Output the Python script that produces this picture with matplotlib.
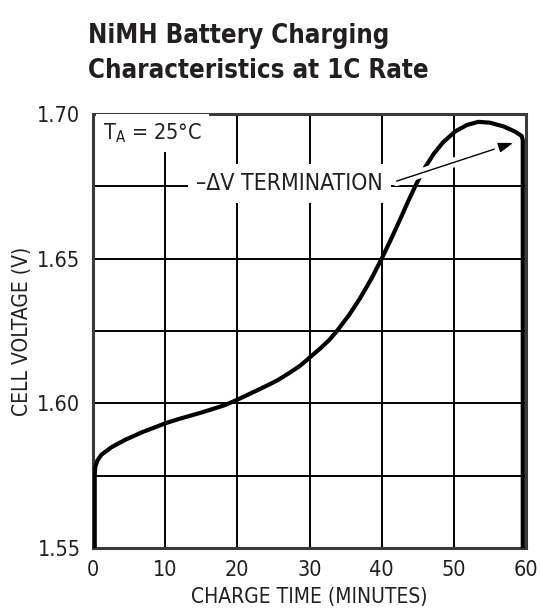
import matplotlib
matplotlib.use('Agg')
import matplotlib.pyplot as plt
import matplotlib.patheffects as pe
from matplotlib.ticker import MultipleLocator

# Curve
time_min = [0.24, 0.24, 0.32, 0.6, 1.15, 2.54, 4.39, 6.69, 10.02, 11.78, 15.0,
            18.3, 19.95, 22.5, 24.0, 25.6, 27.2, 28.7, 30.2, 31.5, 32.7, 33.8,
            35.5, 37.0, 38.6, 40.0, 41.4, 42.5, 43.7, 44.85, 46.0, 47.2, 48.5,
            50.2, 51.8, 53.4, 55.0, 56.9, 58.5, 59.4, 59.55, 59.55]
cell_v = [1.550, 1.5752, 1.5781, 1.5802, 1.5822, 1.5848, 1.5873, 1.5899, 1.5931,
          1.5945, 1.5968, 1.5994, 1.6012, 1.6042, 1.6060, 1.608, 1.6105, 1.613,
          1.6162, 1.619, 1.6218, 1.625, 1.6306, 1.6363, 1.6432, 1.650, 1.6573,
          1.6633, 1.670, 1.6761, 1.6815, 1.6862, 1.6902, 1.694, 1.6962, 1.6973,
          1.697, 1.6957, 1.6939, 1.6924, 1.691, 1.550]

x_ticks = [0, 10, 20, 30, 40, 50, 60]
y_ticks = [1.55, 1.60, 1.65, 1.70]
y_tick_labels = ['1.55', '1.60', '1.65', '1.70']

txt = '#231f20'
plt.rcParams['font.family'] = ['DejaVu Sans']
plt.rcParams['font.stretch'] = 'condensed'

fig = plt.figure(figsize=(5.41, 6.14), dpi=100)
ax = fig.add_axes([0.1719, 0.1075, 0.8004, 0.7068])

ax.plot(time_min, cell_v, color='black', lw=3, solid_capstyle='butt',
        solid_joinstyle='round', zorder=3)

ax.set_xlim(0, 60)
ax.set_ylim(1.55, 1.70)
ax.set_xticks(x_ticks)
ax.set_yticks(y_ticks)
ax.set_yticklabels(y_tick_labels)
ax.yaxis.set_minor_locator(MultipleLocator(0.025))
ax.tick_params(which='both', length=0, labelsize=15.5, colors=txt, pad=9)
ax.grid(True, which='both', color='black', lw=1.4)
ax.set_axisbelow(True)
for s in ax.spines.values():
    s.set_linewidth(2.2)
    s.set_color('#3a3a3a')

ax.set_xlabel('CHARGE TIME (MINUTES)', fontsize=15, color=txt, labelpad=5)
ax.set_ylabel('CELL VOLTAGE (V)', fontsize=15, color=txt, labelpad=4)

ax.text(1.4, 1.6935, r'T$_\mathregular{A}$ = 25°C', fontsize=15.5, color=txt,
        va='center', ha='left', zorder=4,
        bbox=dict(facecolor='white', edgecolor='none', pad=5))
ax.text(27.2, 1.676, '–ΔV TERMINATION', fontsize=16.5, color=txt,
        va='center', ha='center', zorder=4,
        bbox=dict(facecolor='white', edgecolor='none', pad=6))
ax.annotate('', xy=(58.6, 1.6903), xytext=(41.7, 1.6765), zorder=5,
            arrowprops=dict(arrowstyle='-|>,head_length=0.9,head_width=0.3',
                            color='black', lw=1,
                            path_effects=[pe.withStroke(linewidth=7, foreground='white')]))

fig.text(0.1627, 0.930, 'NiMH Battery Charging', fontsize=18.5,
         fontweight='bold', color=txt, ha='left', va='baseline')
fig.text(0.1627, 0.873, 'Characteristics at 1C Rate', fontsize=18.5,
         fontweight='bold', color=txt, ha='left', va='baseline')

fig.savefig('out.png', dpi=100)
